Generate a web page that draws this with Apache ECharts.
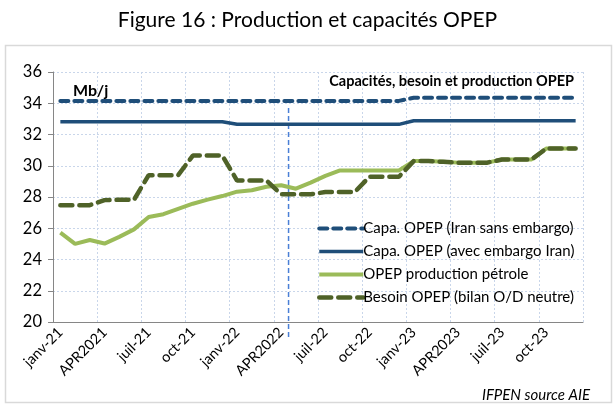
<!DOCTYPE html>
<html>
<head>
<meta charset="utf-8">
<script src="https://cdn.jsdelivr.net/npm/echarts@6/dist/echarts.min.js"></script>
<style>
html,body{margin:0;padding:0;background:#fff;}
#c{width:615px;height:412px;}
</style>
</head>
<body>
<div id="c"></div>
<script>
var months = ['janv-21','févr-21','mars-21','APR2021','mai-21','juin-21','juil-21','août-21','sept-21','oct-21','nov-21','déc-21',
              'janv-22','févr-22','mars-22','APR2022','mai-22','juin-22','juil-22','août-22','sept-22','oct-22','nov-22','déc-22',
              'janv-23','févr-23','mars-23','APR2023','mai-23','juin-23','juil-23','août-23','sept-23','oct-23','nov-23','déc-23'];
var capaSansEmbargo = [34.15,34.15,34.15,34.15,34.15,34.15,34.15,34.15,34.15,34.15,34.15,34.15,
                       34.15,34.15,34.15,34.15,34.15,34.15,34.15,34.15,34.15,34.15,34.15,34.15,
                       34.35,34.35,34.35,34.35,34.35,34.35,34.35,34.35,34.35,34.35,34.35,34.35];
var capaAvecEmbargo = [32.82,32.82,32.82,32.82,32.82,32.82,32.82,32.82,32.82,32.82,32.82,32.82,
                       32.65,32.65,32.65,32.65,32.65,32.65,32.65,32.65,32.65,32.65,32.65,32.65,
                       32.88,32.88,32.88,32.88,32.88,32.88,32.88,32.88,32.88,32.88,32.88,32.88];
var production = [25.72,25.0,25.25,25.02,25.45,25.93,26.72,26.9,27.24,27.57,27.83,28.06,
                  28.34,28.43,28.66,28.75,28.53,28.92,29.35,29.7,29.7,29.7,29.7,29.7,
                  30.3,30.3,30.25,30.2,30.2,30.2,30.4,30.4,30.4,31.1,31.1,31.1];
var besoin = [27.48,27.48,27.48,27.8,27.82,27.82,29.4,29.4,29.4,30.65,30.65,30.65,
              29.05,29.05,29.05,28.17,28.17,28.17,28.32,28.32,28.32,29.3,29.3,29.3,
              30.3,30.3,30.25,30.2,30.2,30.2,30.4,30.4,30.4,31.1,31.1,31.1];
var seriesNames = ['Capa. OPEP (Iran sans embargo)','Capa. OPEP (avec embargo Iran)','OPEP production pétrole','Besoin OPEP (bilan O/D neutre)'];
var refLineX = [16, 16];
var refLineY = [33.7, 18.85];

var FONT = 'Lato';
var chart = echarts.init(document.getElementById('c'), null, {renderer:'canvas'});
var refData = refLineX.map(function(x,i){return [x, refLineY[i]];});
chart.setOption({
  animation:false,
  backgroundColor:'#fff',
  textStyle:{fontFamily:FONT},
  graphic:[{type:'rect', shape:{x:5.5,y:45.5,width:606,height:357}, style:{fill:'none', stroke:'#d9d9d9', lineWidth:1.5}, silent:true, z:-1}],
  title:[
    {text:'Figure 16 : Production et capacités OPEP', left:'center', top:5, textStyle:{fontFamily:FONT, fontSize:21, fontWeight:'normal', color:'#000'}},
    {text:'Mb/j', left:68, top:78, textStyle:{fontFamily:FONT, fontSize:16, fontWeight:'bold', color:'#000'}},
    {text:'Capacités, besoin et production OPEP', right:36, top:69, textStyle:{fontFamily:FONT, fontSize:14.5, fontWeight:'bold', color:'#000'}},
    {text:'IFPEN source AIE', right:20, top:383, textStyle:{fontFamily:FONT, fontSize:15, fontStyle:'italic', fontWeight:'normal', color:'#000'}}
  ],
  legend:{
    orient:'vertical', left:312, top:216, itemWidth:44, itemHeight:10, itemGap:8,
    data:seriesNames,
    lineStyle:{width:'inherit'},
    itemStyle:{color:'rgba(0,0,0,0)', borderColor:'rgba(0,0,0,0)', borderWidth:0},
    textStyle:{fontFamily:FONT, fontSize:15, color:'#000', padding:[0,0,0,-5]}
  },
  grid:{left:53, right:32, top:72, bottom:90, containLabel:false},
  xAxis:[{
    type:'category', data:months, boundaryGap:true,
    axisLine:{lineStyle:{color:'#868686', width:1}},
    axisTick:{interval:2, length:5, lineStyle:{color:'#868686'}},
    axisLabel:{interval:2, rotate:45, fontFamily:FONT, fontSize:14.5, color:'#000', margin:8},
    splitLine:{show:true, interval:2, lineStyle:{color:'#c9d6ea', type:[2,2], width:1}}
  },{
    type:'value', min:0, max:36, show:false
  }],
  yAxis:{
    type:'value', min:20, max:36, interval:2,
    axisLine:{show:true, lineStyle:{color:'#868686'}},
    axisTick:{show:true, length:5, lineStyle:{color:'#868686'}},
    axisLabel:{fontFamily:FONT, fontSize:16.5, color:'#000', margin:11},
    splitLine:{show:true, lineStyle:{color:'#c9d6ea', type:[2,2], width:1}}
  },
  series:[
    {name:seriesNames[0], type:'line', data:capaSansEmbargo, symbol:'none', smooth:false,
     lineStyle:{color:'#1f4e79', width:4, type:[8,6], cap:'round'}, itemStyle:{color:'#1f4e79'}, z:3},
    {name:seriesNames[1], type:'line', data:capaAvecEmbargo, symbol:'none',
     lineStyle:{color:'#1f4e79', width:3.5}, itemStyle:{color:'#1f4e79'}, z:3},
    {name:seriesNames[2], type:'line', data:production, symbol:'none',
     lineStyle:{color:'#9bbb59', width:4}, itemStyle:{color:'#9bbb59'}, z:3},
    {name:seriesNames[3], type:'line', data:besoin, symbol:'none',
     lineStyle:{color:'#4f6228', width:4.5, type:[12,7], cap:'round'}, itemStyle:{color:'#4f6228'}, z:4},
    {name:'ref', type:'line', xAxisIndex:1, yAxisIndex:0, data:refData, symbol:'none', clip:false,
     lineStyle:{color:'#4a7fd6', width:1.5, type:[5,3]}, z:2}
  ]
});
</script>
</body>
</html>
